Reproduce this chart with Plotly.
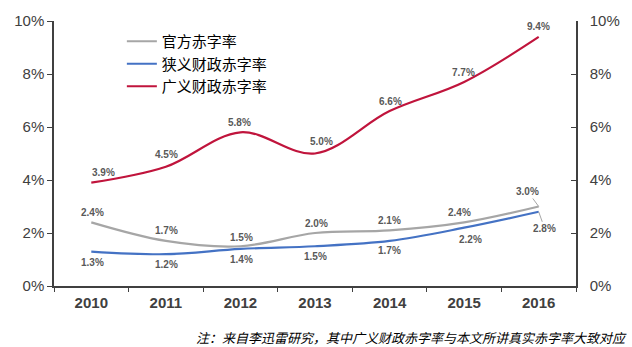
import plotly.graph_objects as go

years = ["2010", "2011", "2012", "2013", "2014", "2015", "2016"]
official = [2.4, 1.7, 1.5, 2.0, 2.1, 2.4, 3.0]
narrow = [1.3, 1.2, 1.4, 1.5, 1.7, 2.2, 2.8]
broad = [3.9, 4.5, 5.8, 5.0, 6.6, 7.7, 9.4]

names = ["官方赤字率", "狭义财政赤字率", "广义财政赤字率"]
colors = ["#A6A6A6", "#4472C4", "#C0143C"]
y_ticks = [0, 2, 4, 6, 8, 10]
y_tick_text = ["0%", "2%", "4%", "6%", "8%", "10%"]
note = "注：来自李迅雷研究，其中广义财政赤字率与本文所讲真实赤字率大致对应"

fig = go.Figure()
for series, name, color in zip([official, narrow, broad], names, colors):
    fig.add_trace(go.Scatter(
        x=years, y=series, name=name, mode="lines",
        line=dict(color=color, width=2.2, shape="spline", smoothing=1.0),
        hoverinfo="skip",
    ))

# invisible trace so the mirrored right axis is drawn
fig.add_trace(go.Scatter(x=years, y=broad, yaxis="y2", mode="lines",
                         line=dict(width=0), opacity=0, showlegend=False,
                         hoverinfo="skip"))

label_font = dict(family="Liberation Sans, Arial", size=10, color="#595959")

def add_labels(values, offsets, arrows=None):
    # category positions are given by index so "2010" is not read as a number
    arrows = arrows or {}
    for i, v in enumerate(values):
        dx, dy = offsets[i]
        text = f"<b>{v:.1f}%</b>"
        if i in arrows:
            ax, ay = arrows[i]
            fig.add_annotation(x=i, y=v, text=text, showarrow=True,
                               arrowhead=0, arrowwidth=1, arrowcolor="#A6A6A6",
                               ax=ax, ay=ay, font=label_font, standoff=0)
        else:
            fig.add_annotation(x=i, y=v, text=text, showarrow=False,
                               xshift=dx, yshift=dy, font=label_font)

add_labels(broad, [(12, 10), (1, 12), (-1, 10), (6, 12), (1, 10), (-1, 9), (0, 10)])
add_labels(official, [(1, 10), (1, 10), (1, 9), (1, 10), (0, 10), (-5, 10), (0, 0)],
           arrows={6: (-11, -15)})
add_labels(narrow, [(1, -11), (1, -10), (1, -11), (0, -10), (0, -10), (0, 0), (0, 0)],
           arrows={5: (6, 12), 6: (6, 17)})

fig.add_annotation(text=note, xref="paper", yref="paper", x=1.1015, y=-0.194,
                   xanchor="right", yanchor="middle", showarrow=False,
                   font=dict(family="Noto Sans CJK SC", size=13, color="#000000",
                             style="italic"))

axis_common = dict(showgrid=False, zeroline=False, showline=True,
                   linecolor="#404040", linewidth=1.5)
tick_font = dict(family="Liberation Sans, Arial", size=15, color="#404040")

fig.update_layout(
    width=632, height=347,
    margin=dict(l=54, r=55, t=18, b=61),
    paper_bgcolor="white", plot_bgcolor="white",
    showlegend=True,
    legend=dict(x=0.13, y=0.985, xanchor="left", yanchor="top",
                bgcolor="rgba(0,0,0,0)", traceorder="normal",
                font=dict(family="Noto Sans CJK SC", size=15, color="#000000"),
                itemwidth=30),
    xaxis=dict(**axis_common, type="category", ticks="outside", ticklen=4,
               tickcolor="#404040", tickson="boundaries",
               tickfont=dict(family="Liberation Sans, Arial", size=15,
                             color="#404040", weight="bold"),
               ticklabelstandoff=2, range=[-0.5, 6.5]),
    yaxis=dict(**axis_common, range=[0, 10], tickvals=y_ticks,
               ticktext=y_tick_text, ticks="outside", ticklen=5,
               tickcolor="#404040", tickfont=tick_font),
    yaxis2=dict(**axis_common, range=[0, 10], tickvals=y_ticks,
                ticktext=y_tick_text, overlaying="y", side="right",
                ticks="inside", ticklen=5, tickcolor="#404040",
                ticklabelstandoff=9, tickfont=tick_font),
)

fig.write_html("out.html")
